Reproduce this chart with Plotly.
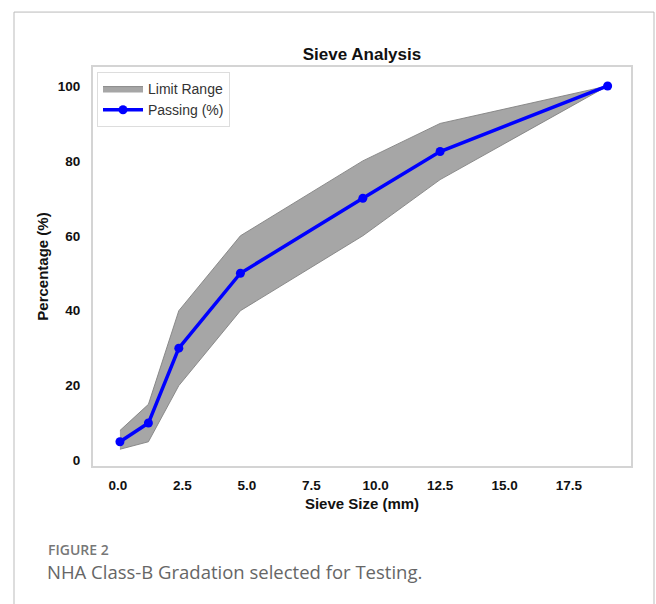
import plotly.graph_objects as go

sieve_mm = [0.075, 1.18, 2.36, 4.75, 9.5, 12.5, 19.0]
passing = [5, 10, 30, 50, 70, 82.5, 100]
lower_limit = [3, 5, 20, 40, 60, 75, 100]
upper_limit = [8, 15, 40, 60, 80, 90, 100]
x_ticks = [0.0, 2.5, 5.0, 7.5, 10.0, 12.5, 15.0, 17.5]
y_ticks = [0, 20, 40, 60, 80, 100]

# plot-area pixel geometry
W, H = 656, 604
L, R, T, B = 93, 631, 67, 466.5
pw, ph = R - L, B - T

def px(xp):
    return (xp - L) / pw

def py(yp):
    return (B - yp) / ph

fig = go.Figure()
fig.add_trace(go.Scatter(
    x=sieve_mm + sieve_mm[::-1],
    y=upper_limit + lower_limit[::-1],
    fill="toself", fillcolor="rgba(150,150,150,0.85)",
    line=dict(color="rgba(130,130,130,0.9)", width=1),
    mode="lines", name="Limit Range", hoverinfo="skip"))
fig.add_trace(go.Scatter(
    x=sieve_mm, y=passing, mode="lines+markers", name="Passing (%)",
    line=dict(color="#0000ff", width=3.5),
    marker=dict(color="#0000ff", size=9)))

bold = dict(family="Liberation Sans, Arial, sans-serif", weight="bold", color="#111")

fig.update_layout(
    width=W, height=H,
    margin=dict(l=L, r=W - R, t=T, b=H - B, pad=0),
    paper_bgcolor="white", plot_bgcolor="white",
    title=dict(text="Sieve Analysis", x=px(362), xref="paper", xanchor="center",
               y=1 - 54 / H, yanchor="middle",
               font=dict(size=17, **bold)),
    legend=dict(x=px(97), y=py(72), xanchor="left", yanchor="top",
                bgcolor="white", bordercolor="#dddddd", borderwidth=1,
                font=dict(family="Liberation Sans, Arial, sans-serif", size=14, color="#333"),
                itemwidth=40, tracegroupgap=0),
    showlegend=True,
)
fig.update_xaxes(
    range=[(L - 118) / 25.77, (R - 118) / 25.77],
    tickvals=x_ticks, ticktext=[f"{v:.1f}" for v in x_ticks],
    showgrid=False, zeroline=False,
    showline=True, mirror=True, linecolor="#d4d4d4", linewidth=2,
    ticks="outside", ticklen=6, tickcolor="rgba(0,0,0,0)",
    tickfont=dict(size=13.5, **bold),
    title=dict(text="Sieve Size (mm)", standoff=6, font=dict(size=15, **bold)))
fig.update_yaxes(
    range=[(461 - B) / 3.75, (461 - T) / 3.75],
    tickvals=y_ticks, ticktext=[str(v) for v in y_ticks],
    showgrid=False, zeroline=False,
    showline=True, mirror=True, linecolor="#d4d4d4", linewidth=2,
    ticks="outside", ticklen=8, tickcolor="rgba(0,0,0,0)",
    tickfont=dict(size=13.5, **bold),
    title=dict(text="Percentage (%)", standoff=6, font=dict(size=15, **bold)))

# outer frame of the figure panel
fig.add_shape(type="rect", xref="paper", yref="paper",
              x0=px(14), x1=px(654), y0=py(640), y1=py(12),
              line=dict(color="#bbbbbb", width=1), fillcolor="rgba(0,0,0,0)",
              layer="below")

fig.add_annotation(text="FIGURE 2", xref="paper", yref="paper",
                   x=px(46), y=py(550), xanchor="left", yanchor="middle",
                   showarrow=False,
                   font=dict(family="Open Sans, sans-serif", size=14, color="#777", weight=600))
fig.add_annotation(text="NHA Class-B Gradation selected for Testing.", xref="paper", yref="paper",
                   x=px(45), y=py(572), xanchor="left", yanchor="middle",
                   showarrow=False,
                   font=dict(family="Open Sans, sans-serif", size=18.5, color="#666"))

fig.write_html("out.html")
